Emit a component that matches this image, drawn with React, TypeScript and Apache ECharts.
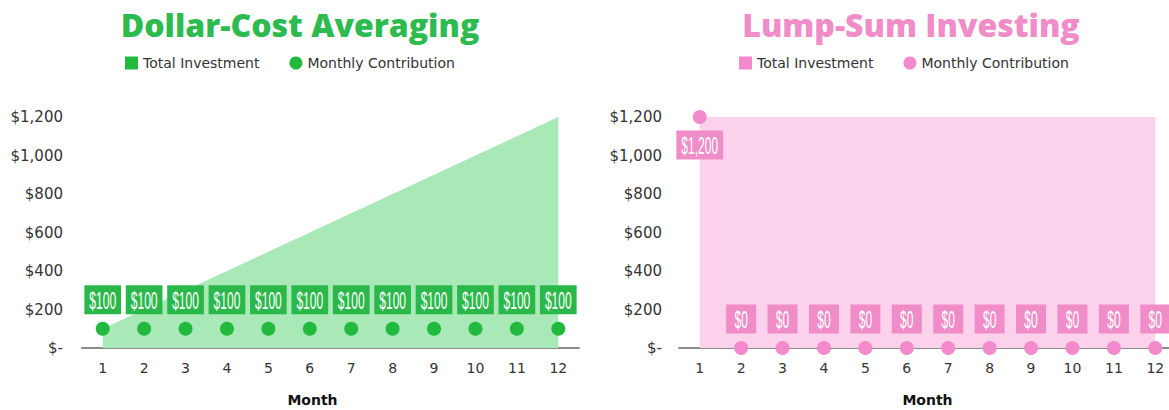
import React, { useEffect, useRef } from "react";
import * as echarts from "echarts";

const months = ["1", "2", "3", "4", "5", "6", "7", "8", "9", "10", "11", "12"];
const dcaTotal = [100, 200, 300, 400, 500, 600, 700, 800, 900, 1000, 1100, 1200];
const dcaMonthly = [100, 100, 100, 100, 100, 100, 100, 100, 100, 100, 100, 100];
const lumpTotal = [1200, 1200, 1200, 1200, 1200, 1200, 1200, 1200, 1200, 1200, 1200, 1200];
const lumpMonthly = [1200, 0, 0, 0, 0, 0, 0, 0, 0, 0, 0, 0];
const yMin = 0;
const yMax = 1200;
const yStep = 200;

const BASE_FONT = '"DejaVu Sans", "Noto Sans", sans-serif';
const BOX_FONT_FAMILY = '"Liberation Sans", Arial, sans-serif';
const BOX_FONT_SIZE = 24;
const BOX_SCALE_X = 0.5;

const money = (v: number) => (v === 0 ? "$-" : "$" + v.toLocaleString("en-US"));
const boxLabel = (v: number) => "$" + v.toLocaleString("en-US");

let measureCtx: CanvasRenderingContext2D | null = null;
function measure(text: string) {
  if (!measureCtx) {
    measureCtx = document.createElement("canvas").getContext("2d");
  }
  if (!measureCtx) return text.length * BOX_FONT_SIZE * 0.556;
  measureCtx.font = `${BOX_FONT_SIZE}px ${BOX_FONT_FAMILY}`;
  return measureCtx.measureText(text).width;
}

type Cfg = {
  title: string;
  titleX: number;
  titleColor: string;
  legendLeft: number;
  gridLeft: number;
  main: string;
  area: string;
  box: string;
  total: number[];
  monthly: number[];
  yLabelMargin: number;
  bigValueBelow: boolean;
  minBoxW: number;
  monthShift: number;
};

function buildOption(c: Cfg) {
  return {
    animation: false,
    graphic: [
      {
        type: "text",
        x: c.titleX,
        y: 24,
        style: {
          text: c.title,
          fill: c.titleColor,
          fontSize: 32,
          fontWeight: 800,
          fontFamily: "'Open Sans', 'Noto Sans', sans-serif",
          align: "center",
          verticalAlign: "middle",
        },
      },
    ],
    legend: {
      left: c.legendLeft,
      top: 51,
      itemWidth: 13,
      itemHeight: 13,
      itemGap: 30,
      textStyle: { fontSize: 14, color: "#333", fontFamily: BASE_FONT },
      data: [
        { name: "Total Investment", icon: "rect", itemStyle: { color: c.main } },
        { name: "Monthly Contribution", icon: "circle", itemStyle: { color: c.main } },
      ],
    },
    grid: {
      left: c.gridLeft,
      top: 117,
      width: 497,
      height: 231,
      containLabel: false,
      outerBoundsMode: "none",
    },
    xAxis: {
      type: "category",
      data: months,
      boundaryGap: true,
      axisLine: { lineStyle: { color: "#8c8c8c", width: 2 } },
      axisTick: { show: false },
      axisLabel: { color: "#333", fontSize: 14, margin: 13, fontFamily: BASE_FONT },
      name: "Month",
      nameLocation: "middle",
      nameGap: 45,
      nameTextStyle: {
        fontWeight: "bold",
        fontSize: 14,
        color: "#111",
        fontFamily: BASE_FONT,
        padding: c.monthShift > 0 ? [0, c.monthShift * 2, 0, 0] : [0, 0, 0, 0],
      },
    },
    yAxis: {
      type: "value",
      min: yMin,
      max: yMax,
      interval: yStep,
      splitLine: { show: false },
      axisLine: { show: false },
      axisTick: { show: false },
      axisLabel: {
        formatter: money,
        color: "#333",
        fontSize: 15,
        margin: c.yLabelMargin,
        fontFamily: BASE_FONT,
      },
    },
    series: [
      {
        name: "Total Investment",
        type: "line",
        data: c.total,
        symbol: "none",
        lineStyle: { width: 0 },
        areaStyle: { color: c.area, opacity: 1 },
        itemStyle: { color: c.main },
        z: 1,
        silent: true,
      },
      {
        name: "Monthly Contribution",
        type: "scatter",
        data: c.monthly,
        symbolSize: 14,
        itemStyle: { color: c.main, opacity: 1 },
        z: 3,
        silent: true,
      },
      {
        name: "Contribution Labels",
        type: "custom",
        data: c.monthly.map((v, i) => [i, v]),
        encode: { x: 0, y: 1 },
        clip: false,
        silent: true,
        z: 4,
        renderItem: (_params: any, api: any) => {
          const i = api.value(0);
          const v = api.value(1);
          const pt = api.coord([i, v]);
          const text = boxLabel(v);
          const below = c.bigValueBelow && v > 0;
          const cy = below ? pt[1] + 28 : pt[1] - 29;
          const w = Math.max(c.minBoxW, measure(text) * BOX_SCALE_X + 10);
          const h = 29;
          return {
            type: "group",
            children: [
              {
                type: "rect",
                shape: { x: pt[0] - w / 2, y: cy - h / 2, width: w, height: h },
                style: { fill: c.box },
              },
              {
                type: "text",
                x: pt[0],
                y: cy + 1,
                scaleX: BOX_SCALE_X,
                style: {
                  text,
                  fill: "#fff",
                  fontSize: BOX_FONT_SIZE,
                  fontFamily: BOX_FONT_FAMILY,
                  align: "center",
                  verticalAlign: "middle",
                },
              },
            ],
          };
        },
      },
    ],
  };
}

function ChartBox({ cfg, left, width }: { cfg: Cfg; left: number; width: number }) {
  const ref = useRef<HTMLDivElement>(null);
  useEffect(() => {
    if (!ref.current) return;
    const chart = echarts.init(ref.current, undefined, { renderer: "svg" });
    chart.setOption(buildOption(cfg) as any);
    return () => chart.dispose();
  }, []);
  return <div ref={ref} style={{ position: "absolute", left, top: 0, width, height: 410 }} />;
}

const dcaCfg: Cfg = {
  title: "Dollar-Cost Averaging",
  titleX: 300,
  titleColor: "#2dba4e",
  legendLeft: 120,
  gridLeft: 82,
  main: "#22b93f",
  area: "#a9e9b7",
  box: "#2bb84a",
  total: dcaTotal,
  monthly: dcaMonthly,
  yLabelMargin: 19,
  bigValueBelow: false,
  minBoxW: 30,
  monthShift: 18,
};

const lumpCfg: Cfg = {
  title: "Lump-Sum Investing",
  titleX: 327,
  titleColor: "#f08cc8",
  legendLeft: 150,
  gridLeft: 95,
  main: "#f28acb",
  area: "#fbd1eb",
  box: "#f08dc9",
  total: lumpTotal,
  monthly: lumpMonthly,
  yLabelMargin: 17,
  bigValueBelow: true,
  minBoxW: 30,
  monthShift: 0,
};

export default function App() {
  return (
    <div
      style={{
        position: "fixed",
        left: 0,
        top: 0,
        width: 1169,
        height: 410,
        background: "#fff",
        overflow: "hidden",
      }}
    >
      <ChartBox cfg={dcaCfg} left={0} width={584} />
      <ChartBox cfg={lumpCfg} left={584} width={585} />
    </div>
  );
}
